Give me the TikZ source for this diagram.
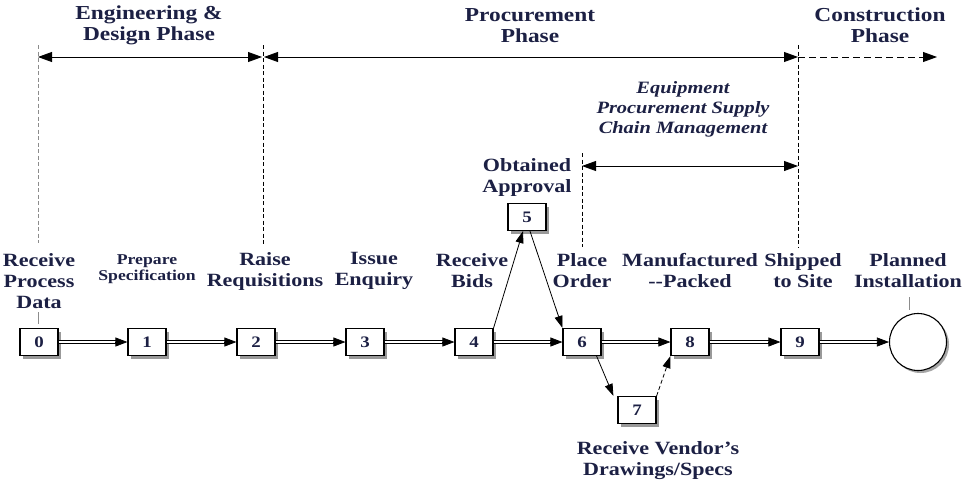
\documentclass[tikz,border=0pt]{standalone}
\usepackage{fontspec}
\setmainfont{Liberation Serif}
\newfontfamily\labf[FakeStretch=1.18]{Liberation Serif}
\usetikzlibrary{arrows.meta,shadows,calc}
\definecolor{ink}{RGB}{28,32,68}
\begin{document}
\begin{tikzpicture}[x=1pt,y=-1pt,
  lab/.style={font=\labf\bfseries\fontsize{18.7}{21}\selectfont, text=ink, align=center, inner sep=0pt},
  head/.style={font=\labf\bfseries\fontsize{19.8}{21}\selectfont, text=ink, align=center, inner sep=0pt},
  smalllab/.style={font=\labf\bfseries\fontsize{15}{16}\selectfont, text=ink, align=center, inner sep=0pt},
  itlab/.style={font=\labf\bfseries\itshape\fontsize{17.3}{20}\selectfont, text=ink, align=center, inner sep=0pt},
  box/.style={draw, line width=1.2pt, fill=white, minimum width=38pt, minimum height=27pt, inner sep=0pt,
    font=\labf\bfseries\fontsize{16}{16}\selectfont, text=ink,
    drop shadow={shadow xshift=3pt, shadow yshift=-3pt, fill=black!40, opacity=1}},
  dbl/.style={double=white, double distance=2.2pt, line width=0.7pt, shorten >=11pt},
  tipa/.style={-{Triangle[length=12pt,width=9pt]}, line width=0.7pt},
  sarr/.style={-{Triangle[length=12pt,width=8pt]}, line width=0.8pt},
  phase/.style={{Triangle[length=14pt,width=10pt]}-{Triangle[length=14pt,width=10pt]}, line width=0.8pt},
  vdash/.style={dashed, dash pattern=on 4pt off 2.5pt, line width=0.9pt},
]
\useasboundingbox (0,0) rectangle (963,482);

% headings
\node[head] (hEng) at (149,25.5) {Engineering \&\\Design Phase};
\node[head] (hProc) at (530,25.5) {Procurement\\Phase};
\node[head] (hCons) at (880,25.5) {Construction\\Phase};
\node[itlab] (hEq) at (683,109) {Equipment\\Procurement Supply\\Chain Management};

% phase boundaries
\coordinate (t0) at (38,45);   \coordinate (b0) at (38,243);
\coordinate (t2) at (263,45);  \coordinate (b2) at (263,245);
\coordinate (t6) at (582,153); \coordinate (b6) at (582,247);
\coordinate (t9) at (798,45);  \coordinate (b9) at (798,247);
\draw[vdash, black!45] (t0) -- (b0);
\draw[vdash] (t2) -- (b2);
\draw[vdash] (t6) -- (b6);
\draw[vdash] (t9) -- (b9);

\coordinate (a0) at (38,57);
\coordinate (a2) at (263,57);
\coordinate (a9) at (798,57);
\coordinate (aEnd) at (937,57);
\coordinate (e6) at (582,166);
\coordinate (e9) at (798,166);
\draw[phase] (a0) -- ([xshift=-1pt]a2);
\draw[phase] ([xshift=1pt]a2) -- (a9);
\draw[-{Triangle[length=14pt,width=10pt]}, line width=0.8pt, dashed, dash pattern=on 7pt off 4pt] (a9) -- (aEnd);
\draw[phase] (e6) -- (e9);

% activity boxes
\node[box] (n0) at (39,342) {0};
\node[box] (n1) at (147,342) {1};
\node[box] (n2) at (256,342) {2};
\node[box] (n3) at (365,342) {3};
\node[box] (n4) at (474,342) {4};
\node[box] (n5) at (527,217) {5};
\node[box] (n6) at (582,342) {6};
\node[box] (n7) at (637,410) {7};
\node[box] (n8) at (690,342) {8};
\node[box] (n9) at (800,342) {9};
\node[draw, circle, line width=1.1pt, minimum size=57pt, inner sep=0pt, fill=white,
  drop shadow={shadow xshift=2.5pt, shadow yshift=-2.5pt, fill=black!35, opacity=1}] (nE) at (918,342) {};

% labels
\node[lab] (l0) at (39,281) {Receive\\Process\\Data};
\node[smalllab] (l1) at (147,269) {Prepare\\Specification};
\node[lab] (l2) at (265,271) {Raise\\Requisitions};
\node[lab] (l3) at (374,271) {Issue\\Enquiry};
\node[lab] (l4) at (472,271) {Receive\\Bids};
\node[lab] (l5) at (527,177.5) {Obtained\\Approval};
\node[lab] (l6) at (582,270.5) {Place\\Order};
\node[lab] (l8) at (690,270.5) {Manufactured\\--Packed};
\node[lab] (l9) at (803,270.5) {Shipped\\to Site};
\node[lab] (lE) at (908,270.5) {Planned\\Installation};
\node[lab] (l7) at (658,461) {Receive Vendor’s\\Drawings/Specs};

% tick lines from labels
\coordinate (k1) at (38,312);
\coordinate (k2) at (38,324);
\draw[black!45, line width=0.9pt] (k1) -- (k2);
\coordinate (kE1) at (909,297);
\coordinate (kE2) at (909,310);
\draw[black!45, line width=0.9pt] (kE1) -- (kE2);

% main double-line chain
\foreach \a/\b in {n0/n1,n1/n2,n2/n3,n3/n4,n4/n6,n6/n8,n8/n9,n9/nE}{
  \draw[dbl] (\a.east) -- (\b.west);
  \draw[tipa] ([xshift=-12pt]\b.west) -- (\b.west);
}

% branches
\draw[sarr] (n4.north east) -- ([xshift=-4pt]n5.south);
\draw[sarr] ([xshift=3pt]n5.south) -- (n6.north west);
\draw[sarr] ([xshift=-5pt]n6.south east) -- ([xshift=-4pt]n7.north west);
\draw[sarr, dashed, dash pattern=on 4pt off 2.5pt] (n7.north east) -- (n8.south west);
\end{tikzpicture}
\end{document}
